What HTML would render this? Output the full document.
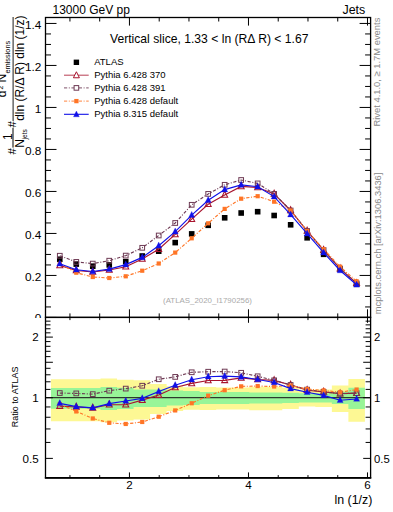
<!DOCTYPE html><html><head><meta charset="utf-8"><style>html,body{margin:0;padding:0;background:#fff;}svg{display:block;}text{font-family:"Liberation Sans",sans-serif;}</style></head><body>
<svg width="393" height="512" viewBox="0 0 393 512">
<rect width="393" height="512" fill="#fff"/>
<path d="M50.95 379.27L67.47 379.27L67.47 379.27L84.00 379.27L84.00 379.27L100.52 379.27L100.52 378.57L117.05 378.57L117.05 379.63L133.57 379.63L133.57 380.34L150.09 380.34L150.09 384.00L166.62 384.00L166.62 386.28L183.14 386.28L183.14 387.20L199.67 387.20L199.67 387.05L216.19 387.05L216.19 387.44L232.71 387.44L232.71 387.44L249.24 387.44L249.24 386.74L265.76 386.74L265.76 386.74L282.29 386.74L282.29 387.83L298.81 387.83L298.81 389.80L315.33 389.80L315.33 389.40L331.86 389.40L331.86 385.51L348.38 385.51L348.38 378.92L364.91 378.92L364.91 421.75L348.38 421.75L348.38 411.96L331.86 411.96L331.86 406.96L315.33 406.96L315.33 406.47L298.81 406.47L298.81 408.92L282.29 408.92L282.29 410.33L265.76 410.33L265.76 410.33L249.24 410.33L249.24 409.42L232.71 409.42L232.71 409.42L216.19 409.42L216.19 409.92L199.67 409.92L199.67 409.72L183.14 409.72L183.14 410.94L166.62 410.94L166.62 414.04L150.09 414.04L150.09 419.48L133.57 419.48L133.57 420.61L117.05 420.61L117.05 422.33L100.52 422.33L100.52 421.18L84.00 421.18L84.00 421.18L67.47 421.18L67.47 421.18L50.95 421.18Z" fill="#fdf894"/>
<path d="M50.95 387.98L67.47 387.98L67.47 387.98L84.00 387.98L84.00 387.98L100.52 387.98L100.52 387.05L117.05 387.05L117.05 387.83L133.57 387.83L133.57 389.40L150.09 389.40L150.09 389.40L166.62 389.40L166.62 390.60L183.14 390.60L183.14 391.01L199.67 391.01L199.67 391.98L216.19 391.98L216.19 391.98L232.71 391.98L232.71 391.98L249.24 391.98L249.24 392.39L265.76 392.39L265.76 392.39L282.29 392.39L282.29 392.81L298.81 392.81L298.81 393.14L315.33 393.14L315.33 393.14L331.86 393.14L331.86 391.82L348.38 391.82L348.38 387.83L364.91 387.83L364.91 408.92L348.38 408.92L348.38 404.09L331.86 404.09L331.86 402.60L315.33 402.60L315.33 402.60L298.81 402.60L298.81 402.97L282.29 402.97L282.29 403.43L265.76 403.43L265.76 403.43L249.24 403.43L249.24 403.90L232.71 403.90L232.71 403.90L216.19 403.90L216.19 403.90L199.67 403.90L199.67 405.03L183.14 405.03L183.14 405.51L166.62 405.51L166.62 406.96L150.09 406.96L150.09 406.96L133.57 406.96L133.57 408.92L117.05 408.92L117.05 409.92L100.52 409.92L100.52 408.73L84.00 408.73L84.00 408.73L67.47 408.73L67.47 408.73L50.95 408.73Z" fill="#98f598"/>
<line x1="45.5" y1="397.74" x2="370.6" y2="397.74" stroke="#2d3a2d" stroke-width="1.25"/>
<rect x="56.98" y="256.45" width="5.60" height="5.60" fill="#000"/>
<rect x="73.47" y="261.30" width="5.60" height="5.60" fill="#000"/>
<rect x="89.96" y="263.40" width="5.60" height="5.60" fill="#000"/>
<rect x="106.45" y="262.10" width="5.60" height="5.60" fill="#000"/>
<rect x="122.94" y="258.90" width="5.60" height="5.60" fill="#000"/>
<rect x="139.43" y="253.20" width="5.60" height="5.60" fill="#000"/>
<rect x="155.92" y="248.40" width="5.60" height="5.60" fill="#000"/>
<rect x="172.41" y="239.80" width="5.60" height="5.60" fill="#000"/>
<rect x="188.90" y="231.10" width="5.60" height="5.60" fill="#000"/>
<rect x="205.39" y="222.50" width="5.60" height="5.60" fill="#000"/>
<rect x="221.88" y="215.00" width="5.60" height="5.60" fill="#000"/>
<rect x="238.37" y="210.20" width="5.60" height="5.60" fill="#000"/>
<rect x="254.86" y="208.90" width="5.60" height="5.60" fill="#000"/>
<rect x="271.35" y="212.70" width="5.60" height="5.60" fill="#000"/>
<rect x="287.84" y="222.00" width="5.60" height="5.60" fill="#000"/>
<rect x="304.33" y="235.00" width="5.60" height="5.60" fill="#000"/>
<rect x="320.82" y="251.50" width="5.60" height="5.60" fill="#000"/>
<rect x="337.31" y="266.40" width="5.60" height="5.60" fill="#000"/>
<rect x="353.80" y="281.50" width="5.60" height="5.60" fill="#000"/>
<polyline points="59.78,265.40 76.27,270.50 92.76,272.00 109.25,270.00 125.74,266.80 142.23,259.00 158.72,249.20 175.21,234.40 191.70,219.20 208.19,204.20 224.68,194.90 241.17,186.40 257.66,187.50 274.15,193.90 290.64,210.50 307.13,231.00 323.62,250.10 340.11,268.60 356.60,283.30" fill="none" stroke="#a8142e" stroke-width="1.15"/>
<path d="M59.78 261.68L62.78 267.68L56.78 267.68Z" fill="none" stroke="#a8142e" stroke-width="1.05"/>
<path d="M76.27 266.78L79.27 272.78L73.27 272.78Z" fill="none" stroke="#a8142e" stroke-width="1.05"/>
<path d="M92.76 268.28L95.76 274.28L89.76 274.28Z" fill="none" stroke="#a8142e" stroke-width="1.05"/>
<path d="M109.25 266.28L112.25 272.28L106.25 272.28Z" fill="none" stroke="#a8142e" stroke-width="1.05"/>
<path d="M125.74 263.08L128.74 269.08L122.74 269.08Z" fill="none" stroke="#a8142e" stroke-width="1.05"/>
<path d="M142.23 255.28L145.23 261.28L139.23 261.28Z" fill="none" stroke="#a8142e" stroke-width="1.05"/>
<path d="M158.72 245.48L161.72 251.48L155.72 251.48Z" fill="none" stroke="#a8142e" stroke-width="1.05"/>
<path d="M175.21 230.68L178.21 236.68L172.21 236.68Z" fill="none" stroke="#a8142e" stroke-width="1.05"/>
<path d="M191.70 215.48L194.70 221.48L188.70 221.48Z" fill="none" stroke="#a8142e" stroke-width="1.05"/>
<path d="M208.19 200.48L211.19 206.48L205.19 206.48Z" fill="none" stroke="#a8142e" stroke-width="1.05"/>
<path d="M224.68 191.18L227.68 197.18L221.68 197.18Z" fill="none" stroke="#a8142e" stroke-width="1.05"/>
<path d="M241.17 182.68L244.17 188.68L238.17 188.68Z" fill="none" stroke="#a8142e" stroke-width="1.05"/>
<path d="M257.66 183.78L260.66 189.78L254.66 189.78Z" fill="none" stroke="#a8142e" stroke-width="1.05"/>
<path d="M274.15 190.18L277.15 196.18L271.15 196.18Z" fill="none" stroke="#a8142e" stroke-width="1.05"/>
<path d="M290.64 206.78L293.64 212.78L287.64 212.78Z" fill="none" stroke="#a8142e" stroke-width="1.05"/>
<path d="M307.13 227.28L310.13 233.28L304.13 233.28Z" fill="none" stroke="#a8142e" stroke-width="1.05"/>
<path d="M323.62 246.38L326.62 252.38L320.62 252.38Z" fill="none" stroke="#a8142e" stroke-width="1.05"/>
<path d="M340.11 264.88L343.11 270.88L337.11 270.88Z" fill="none" stroke="#a8142e" stroke-width="1.05"/>
<path d="M356.60 279.58L359.60 285.58L353.60 285.58Z" fill="none" stroke="#a8142e" stroke-width="1.05"/>
<polyline points="59.78,255.75 76.27,261.90 92.76,263.60 109.25,260.70 125.74,255.60 142.23,247.80 158.72,235.50 175.21,223.00 191.70,204.80 208.19,193.90 224.68,184.80 241.17,180.00 257.66,183.40 274.15,193.90 290.64,210.50 307.13,231.00 323.62,250.10 340.11,268.60 356.60,283.30" fill="none" stroke="#6e3a54" stroke-width="1.15" stroke-dasharray="3.2 1.6 1 1.6"/>
<rect x="57.43" y="253.40" width="4.70" height="4.70" fill="none" stroke="#6e3a54" stroke-width="1.0"/>
<rect x="73.92" y="259.55" width="4.70" height="4.70" fill="none" stroke="#6e3a54" stroke-width="1.0"/>
<rect x="90.41" y="261.25" width="4.70" height="4.70" fill="none" stroke="#6e3a54" stroke-width="1.0"/>
<rect x="106.90" y="258.35" width="4.70" height="4.70" fill="none" stroke="#6e3a54" stroke-width="1.0"/>
<rect x="123.39" y="253.25" width="4.70" height="4.70" fill="none" stroke="#6e3a54" stroke-width="1.0"/>
<rect x="139.88" y="245.45" width="4.70" height="4.70" fill="none" stroke="#6e3a54" stroke-width="1.0"/>
<rect x="156.37" y="233.15" width="4.70" height="4.70" fill="none" stroke="#6e3a54" stroke-width="1.0"/>
<rect x="172.86" y="220.65" width="4.70" height="4.70" fill="none" stroke="#6e3a54" stroke-width="1.0"/>
<rect x="189.35" y="202.45" width="4.70" height="4.70" fill="none" stroke="#6e3a54" stroke-width="1.0"/>
<rect x="205.84" y="191.55" width="4.70" height="4.70" fill="none" stroke="#6e3a54" stroke-width="1.0"/>
<rect x="222.33" y="182.45" width="4.70" height="4.70" fill="none" stroke="#6e3a54" stroke-width="1.0"/>
<rect x="238.82" y="177.65" width="4.70" height="4.70" fill="none" stroke="#6e3a54" stroke-width="1.0"/>
<rect x="255.31" y="181.05" width="4.70" height="4.70" fill="none" stroke="#6e3a54" stroke-width="1.0"/>
<rect x="271.80" y="191.55" width="4.70" height="4.70" fill="none" stroke="#6e3a54" stroke-width="1.0"/>
<rect x="288.29" y="208.15" width="4.70" height="4.70" fill="none" stroke="#6e3a54" stroke-width="1.0"/>
<rect x="304.78" y="228.65" width="4.70" height="4.70" fill="none" stroke="#6e3a54" stroke-width="1.0"/>
<rect x="321.27" y="247.75" width="4.70" height="4.70" fill="none" stroke="#6e3a54" stroke-width="1.0"/>
<rect x="337.76" y="266.25" width="4.70" height="4.70" fill="none" stroke="#6e3a54" stroke-width="1.0"/>
<rect x="354.25" y="280.95" width="4.70" height="4.70" fill="none" stroke="#6e3a54" stroke-width="1.0"/>
<polyline points="59.78,263.80 76.27,272.70 92.76,277.00 109.25,278.00 125.74,276.30 142.23,270.70 158.72,263.50 175.21,252.60 191.70,238.30 208.19,223.30 224.68,208.90 241.17,198.70 257.66,196.20 274.15,201.70 290.64,210.50 307.13,231.00 323.62,249.20 340.11,266.70 356.60,281.30" fill="none" stroke="#ff7526" stroke-width="1.15" stroke-dasharray="3.2 1.6 1 1.6"/>
<rect x="57.68" y="261.70" width="4.20" height="4.20" fill="#ff7526"/>
<rect x="74.17" y="270.60" width="4.20" height="4.20" fill="#ff7526"/>
<rect x="90.66" y="274.90" width="4.20" height="4.20" fill="#ff7526"/>
<rect x="107.15" y="275.90" width="4.20" height="4.20" fill="#ff7526"/>
<rect x="123.64" y="274.20" width="4.20" height="4.20" fill="#ff7526"/>
<rect x="140.13" y="268.60" width="4.20" height="4.20" fill="#ff7526"/>
<rect x="156.62" y="261.40" width="4.20" height="4.20" fill="#ff7526"/>
<rect x="173.11" y="250.50" width="4.20" height="4.20" fill="#ff7526"/>
<rect x="189.60" y="236.20" width="4.20" height="4.20" fill="#ff7526"/>
<rect x="206.09" y="221.20" width="4.20" height="4.20" fill="#ff7526"/>
<rect x="222.58" y="206.80" width="4.20" height="4.20" fill="#ff7526"/>
<rect x="239.07" y="196.60" width="4.20" height="4.20" fill="#ff7526"/>
<rect x="255.56" y="194.10" width="4.20" height="4.20" fill="#ff7526"/>
<rect x="272.05" y="199.60" width="4.20" height="4.20" fill="#ff7526"/>
<rect x="288.54" y="208.40" width="4.20" height="4.20" fill="#ff7526"/>
<rect x="305.03" y="228.90" width="4.20" height="4.20" fill="#ff7526"/>
<rect x="321.52" y="247.10" width="4.20" height="4.20" fill="#ff7526"/>
<rect x="338.01" y="264.60" width="4.20" height="4.20" fill="#ff7526"/>
<rect x="354.50" y="279.20" width="4.20" height="4.20" fill="#ff7526"/>
<polyline points="59.78,263.70 76.27,269.80 92.76,271.50 109.25,269.10 125.74,264.60 142.23,257.40 158.72,245.80 175.21,231.70 191.70,215.10 208.19,200.30 224.68,189.60 241.17,184.90 257.66,186.70 274.15,196.60 290.64,214.60 307.13,233.70 323.62,252.60 340.11,270.50 356.60,284.80" fill="none" stroke="#1010e8" stroke-width="1.15"/>
<path d="M59.78 259.98L62.78 265.98L56.78 265.98Z" fill="#1010e8" stroke="#1010e8" stroke-width="0.3"/>
<path d="M76.27 266.08L79.27 272.08L73.27 272.08Z" fill="#1010e8" stroke="#1010e8" stroke-width="0.3"/>
<path d="M92.76 267.78L95.76 273.78L89.76 273.78Z" fill="#1010e8" stroke="#1010e8" stroke-width="0.3"/>
<path d="M109.25 265.38L112.25 271.38L106.25 271.38Z" fill="#1010e8" stroke="#1010e8" stroke-width="0.3"/>
<path d="M125.74 260.88L128.74 266.88L122.74 266.88Z" fill="#1010e8" stroke="#1010e8" stroke-width="0.3"/>
<path d="M142.23 253.68L145.23 259.68L139.23 259.68Z" fill="#1010e8" stroke="#1010e8" stroke-width="0.3"/>
<path d="M158.72 242.08L161.72 248.08L155.72 248.08Z" fill="#1010e8" stroke="#1010e8" stroke-width="0.3"/>
<path d="M175.21 227.98L178.21 233.98L172.21 233.98Z" fill="#1010e8" stroke="#1010e8" stroke-width="0.3"/>
<path d="M191.70 211.38L194.70 217.38L188.70 217.38Z" fill="#1010e8" stroke="#1010e8" stroke-width="0.3"/>
<path d="M208.19 196.58L211.19 202.58L205.19 202.58Z" fill="#1010e8" stroke="#1010e8" stroke-width="0.3"/>
<path d="M224.68 185.88L227.68 191.88L221.68 191.88Z" fill="#1010e8" stroke="#1010e8" stroke-width="0.3"/>
<path d="M241.17 181.18L244.17 187.18L238.17 187.18Z" fill="#1010e8" stroke="#1010e8" stroke-width="0.3"/>
<path d="M257.66 182.98L260.66 188.98L254.66 188.98Z" fill="#1010e8" stroke="#1010e8" stroke-width="0.3"/>
<path d="M274.15 192.88L277.15 198.88L271.15 198.88Z" fill="#1010e8" stroke="#1010e8" stroke-width="0.3"/>
<path d="M290.64 210.88L293.64 216.88L287.64 216.88Z" fill="#1010e8" stroke="#1010e8" stroke-width="0.3"/>
<path d="M307.13 229.98L310.13 235.98L304.13 235.98Z" fill="#1010e8" stroke="#1010e8" stroke-width="0.3"/>
<path d="M323.62 248.88L326.62 254.88L320.62 254.88Z" fill="#1010e8" stroke="#1010e8" stroke-width="0.3"/>
<path d="M340.11 266.78L343.11 272.78L337.11 272.78Z" fill="#1010e8" stroke="#1010e8" stroke-width="0.3"/>
<path d="M356.60 281.08L359.60 287.08L353.60 287.08Z" fill="#1010e8" stroke="#1010e8" stroke-width="0.3"/>
<polyline points="59.78,406.09 76.27,406.96 92.76,407.84 109.25,404.75 125.74,404.75 142.23,400.13 158.72,395.07 175.21,387.51 191.70,383.41 208.19,380.49 224.68,380.34 241.17,377.94 257.66,379.49 274.15,380.34 290.64,384.98 307.13,390.20 323.62,391.82 340.11,393.64 356.60,393.14" fill="none" stroke="#a8142e" stroke-width="1.15"/>
<path d="M59.78 402.37L62.78 408.37L56.78 408.37Z" fill="none" stroke="#a8142e" stroke-width="1.05"/>
<path d="M76.27 403.24L79.27 409.24L73.27 409.24Z" fill="none" stroke="#a8142e" stroke-width="1.05"/>
<path d="M92.76 404.12L95.76 410.12L89.76 410.12Z" fill="none" stroke="#a8142e" stroke-width="1.05"/>
<path d="M109.25 401.03L112.25 407.03L106.25 407.03Z" fill="none" stroke="#a8142e" stroke-width="1.05"/>
<path d="M125.74 401.03L128.74 407.03L122.74 407.03Z" fill="none" stroke="#a8142e" stroke-width="1.05"/>
<path d="M142.23 396.41L145.23 402.41L139.23 402.41Z" fill="none" stroke="#a8142e" stroke-width="1.05"/>
<path d="M158.72 391.35L161.72 397.35L155.72 397.35Z" fill="none" stroke="#a8142e" stroke-width="1.05"/>
<path d="M175.21 383.79L178.21 389.79L172.21 389.79Z" fill="none" stroke="#a8142e" stroke-width="1.05"/>
<path d="M191.70 379.69L194.70 385.69L188.70 385.69Z" fill="none" stroke="#a8142e" stroke-width="1.05"/>
<path d="M208.19 376.77L211.19 382.77L205.19 382.77Z" fill="none" stroke="#a8142e" stroke-width="1.05"/>
<path d="M224.68 376.62L227.68 382.62L221.68 382.62Z" fill="none" stroke="#a8142e" stroke-width="1.05"/>
<path d="M241.17 374.22L244.17 380.22L238.17 380.22Z" fill="none" stroke="#a8142e" stroke-width="1.05"/>
<path d="M257.66 375.77L260.66 381.77L254.66 381.77Z" fill="none" stroke="#a8142e" stroke-width="1.05"/>
<path d="M274.15 376.62L277.15 382.62L271.15 382.62Z" fill="none" stroke="#a8142e" stroke-width="1.05"/>
<path d="M290.64 381.26L293.64 387.26L287.64 387.26Z" fill="none" stroke="#a8142e" stroke-width="1.05"/>
<path d="M307.13 386.48L310.13 392.48L304.13 392.48Z" fill="none" stroke="#a8142e" stroke-width="1.05"/>
<path d="M323.62 388.10L326.62 394.10L320.62 394.10Z" fill="none" stroke="#a8142e" stroke-width="1.05"/>
<path d="M340.11 389.92L343.11 395.92L337.11 395.92Z" fill="none" stroke="#a8142e" stroke-width="1.05"/>
<path d="M356.60 389.42L359.60 395.42L353.60 395.42Z" fill="none" stroke="#a8142e" stroke-width="1.05"/>
<polyline points="59.78,393.06 76.27,393.39 92.76,394.14 109.25,390.68 125.74,388.61 142.23,385.74 158.72,379.27 175.21,376.90 191.70,372.27 208.19,371.74 224.68,371.55 241.17,372.79 257.66,376.28 274.15,380.34 290.64,384.98 307.13,389.64 323.62,391.82 340.11,393.64 356.60,393.14" fill="none" stroke="#6e3a54" stroke-width="1.15" stroke-dasharray="3.2 1.6 1 1.6"/>
<rect x="57.43" y="390.71" width="4.70" height="4.70" fill="none" stroke="#6e3a54" stroke-width="1.0"/>
<rect x="73.92" y="391.04" width="4.70" height="4.70" fill="none" stroke="#6e3a54" stroke-width="1.0"/>
<rect x="90.41" y="391.79" width="4.70" height="4.70" fill="none" stroke="#6e3a54" stroke-width="1.0"/>
<rect x="106.90" y="388.33" width="4.70" height="4.70" fill="none" stroke="#6e3a54" stroke-width="1.0"/>
<rect x="123.39" y="386.26" width="4.70" height="4.70" fill="none" stroke="#6e3a54" stroke-width="1.0"/>
<rect x="139.88" y="383.39" width="4.70" height="4.70" fill="none" stroke="#6e3a54" stroke-width="1.0"/>
<rect x="156.37" y="376.92" width="4.70" height="4.70" fill="none" stroke="#6e3a54" stroke-width="1.0"/>
<rect x="172.86" y="374.55" width="4.70" height="4.70" fill="none" stroke="#6e3a54" stroke-width="1.0"/>
<rect x="189.35" y="369.92" width="4.70" height="4.70" fill="none" stroke="#6e3a54" stroke-width="1.0"/>
<rect x="205.84" y="369.39" width="4.70" height="4.70" fill="none" stroke="#6e3a54" stroke-width="1.0"/>
<rect x="222.33" y="369.20" width="4.70" height="4.70" fill="none" stroke="#6e3a54" stroke-width="1.0"/>
<rect x="238.82" y="370.44" width="4.70" height="4.70" fill="none" stroke="#6e3a54" stroke-width="1.0"/>
<rect x="255.31" y="373.93" width="4.70" height="4.70" fill="none" stroke="#6e3a54" stroke-width="1.0"/>
<rect x="271.80" y="377.99" width="4.70" height="4.70" fill="none" stroke="#6e3a54" stroke-width="1.0"/>
<rect x="288.29" y="382.63" width="4.70" height="4.70" fill="none" stroke="#6e3a54" stroke-width="1.0"/>
<rect x="304.78" y="387.29" width="4.70" height="4.70" fill="none" stroke="#6e3a54" stroke-width="1.0"/>
<rect x="321.27" y="389.47" width="4.70" height="4.70" fill="none" stroke="#6e3a54" stroke-width="1.0"/>
<rect x="337.76" y="391.29" width="4.70" height="4.70" fill="none" stroke="#6e3a54" stroke-width="1.0"/>
<rect x="354.25" y="390.79" width="4.70" height="4.70" fill="none" stroke="#6e3a54" stroke-width="1.0"/>
<polyline points="59.78,404.09 76.27,411.45 92.76,418.47 109.25,422.79 125.74,423.97 142.23,421.98 158.72,416.72 175.21,410.43 191.70,403.25 208.19,395.67 224.68,390.20 241.17,386.35 257.66,386.05 274.15,386.51 290.64,385.51 307.13,389.08 323.62,390.44 340.11,392.23 356.60,389.56" fill="none" stroke="#ff7526" stroke-width="1.15" stroke-dasharray="3.2 1.6 1 1.6"/>
<rect x="57.68" y="401.99" width="4.20" height="4.20" fill="#ff7526"/>
<rect x="74.17" y="409.35" width="4.20" height="4.20" fill="#ff7526"/>
<rect x="90.66" y="416.37" width="4.20" height="4.20" fill="#ff7526"/>
<rect x="107.15" y="420.69" width="4.20" height="4.20" fill="#ff7526"/>
<rect x="123.64" y="421.87" width="4.20" height="4.20" fill="#ff7526"/>
<rect x="140.13" y="419.88" width="4.20" height="4.20" fill="#ff7526"/>
<rect x="156.62" y="414.62" width="4.20" height="4.20" fill="#ff7526"/>
<rect x="173.11" y="408.33" width="4.20" height="4.20" fill="#ff7526"/>
<rect x="189.60" y="401.15" width="4.20" height="4.20" fill="#ff7526"/>
<rect x="206.09" y="393.57" width="4.20" height="4.20" fill="#ff7526"/>
<rect x="222.58" y="388.10" width="4.20" height="4.20" fill="#ff7526"/>
<rect x="239.07" y="384.25" width="4.20" height="4.20" fill="#ff7526"/>
<rect x="255.56" y="383.95" width="4.20" height="4.20" fill="#ff7526"/>
<rect x="272.05" y="384.41" width="4.20" height="4.20" fill="#ff7526"/>
<rect x="288.54" y="383.41" width="4.20" height="4.20" fill="#ff7526"/>
<rect x="305.03" y="386.98" width="4.20" height="4.20" fill="#ff7526"/>
<rect x="321.52" y="388.34" width="4.20" height="4.20" fill="#ff7526"/>
<rect x="338.01" y="390.13" width="4.20" height="4.20" fill="#ff7526"/>
<rect x="354.50" y="387.46" width="4.20" height="4.20" fill="#ff7526"/>
<polyline points="59.78,403.34 76.27,406.67 92.76,407.84 109.25,403.62 125.74,401.04 142.23,398.35 158.72,391.41 175.21,385.28 191.70,379.70 208.19,376.76 224.68,376.14 241.17,376.90 257.66,379.49 274.15,382.52 290.64,388.61 307.13,392.23 323.62,395.41 340.11,400.22 356.60,398.97" fill="none" stroke="#1010e8" stroke-width="1.15"/>
<path d="M59.78 399.62L62.78 405.62L56.78 405.62Z" fill="#1010e8" stroke="#1010e8" stroke-width="0.3"/>
<path d="M76.27 402.95L79.27 408.95L73.27 408.95Z" fill="#1010e8" stroke="#1010e8" stroke-width="0.3"/>
<path d="M92.76 404.12L95.76 410.12L89.76 410.12Z" fill="#1010e8" stroke="#1010e8" stroke-width="0.3"/>
<path d="M109.25 399.90L112.25 405.90L106.25 405.90Z" fill="#1010e8" stroke="#1010e8" stroke-width="0.3"/>
<path d="M125.74 397.32L128.74 403.32L122.74 403.32Z" fill="#1010e8" stroke="#1010e8" stroke-width="0.3"/>
<path d="M142.23 394.63L145.23 400.63L139.23 400.63Z" fill="#1010e8" stroke="#1010e8" stroke-width="0.3"/>
<path d="M158.72 387.69L161.72 393.69L155.72 393.69Z" fill="#1010e8" stroke="#1010e8" stroke-width="0.3"/>
<path d="M175.21 381.56L178.21 387.56L172.21 387.56Z" fill="#1010e8" stroke="#1010e8" stroke-width="0.3"/>
<path d="M191.70 375.98L194.70 381.98L188.70 381.98Z" fill="#1010e8" stroke="#1010e8" stroke-width="0.3"/>
<path d="M208.19 373.04L211.19 379.04L205.19 379.04Z" fill="#1010e8" stroke="#1010e8" stroke-width="0.3"/>
<path d="M224.68 372.42L227.68 378.42L221.68 378.42Z" fill="#1010e8" stroke="#1010e8" stroke-width="0.3"/>
<path d="M241.17 373.18L244.17 379.18L238.17 379.18Z" fill="#1010e8" stroke="#1010e8" stroke-width="0.3"/>
<path d="M257.66 375.77L260.66 381.77L254.66 381.77Z" fill="#1010e8" stroke="#1010e8" stroke-width="0.3"/>
<path d="M274.15 378.80L277.15 384.80L271.15 384.80Z" fill="#1010e8" stroke="#1010e8" stroke-width="0.3"/>
<path d="M290.64 384.89L293.64 390.89L287.64 390.89Z" fill="#1010e8" stroke="#1010e8" stroke-width="0.3"/>
<path d="M307.13 388.51L310.13 394.51L304.13 394.51Z" fill="#1010e8" stroke="#1010e8" stroke-width="0.3"/>
<path d="M323.62 391.69L326.62 397.69L320.62 397.69Z" fill="#1010e8" stroke="#1010e8" stroke-width="0.3"/>
<path d="M340.11 396.50L343.11 402.50L337.11 402.50Z" fill="#1010e8" stroke="#1010e8" stroke-width="0.3"/>
<path d="M356.60 395.25L359.60 401.25L353.60 401.25Z" fill="#1010e8" stroke="#1010e8" stroke-width="0.3"/>
<rect x="45.5" y="17.5" width="325.10" height="299.90" fill="none" stroke="#000" stroke-width="1.3"/>
<rect x="45.5" y="317.4" width="325.10" height="160.40" fill="none" stroke="#000" stroke-width="1.3"/>
<line x1="44.85" y1="477.8" x2="371.25" y2="477.8" stroke="#000" stroke-width="1.7"/>
<path d="M45.5 317.45h11M370.6 317.45h-11M45.5 306.95h5.5M370.6 306.95h-5.5M45.5 296.45h5.5M370.6 296.45h-5.5M45.5 285.95h5.5M370.6 285.95h-5.5M45.5 275.45h11M370.6 275.45h-11M45.5 264.95h5.5M370.6 264.95h-5.5M45.5 254.45h5.5M370.6 254.45h-5.5M45.5 243.95h5.5M370.6 243.95h-5.5M45.5 233.45h11M370.6 233.45h-11M45.5 222.95h5.5M370.6 222.95h-5.5M45.5 212.45h5.5M370.6 212.45h-5.5M45.5 201.95h5.5M370.6 201.95h-5.5M45.5 191.45h11M370.6 191.45h-11M45.5 180.95h5.5M370.6 180.95h-5.5M45.5 170.45h5.5M370.6 170.45h-5.5M45.5 159.95h5.5M370.6 159.95h-5.5M45.5 149.45h11M370.6 149.45h-11M45.5 138.95h5.5M370.6 138.95h-5.5M45.5 128.45h5.5M370.6 128.45h-5.5M45.5 117.95h5.5M370.6 117.95h-5.5M45.5 107.45h11M370.6 107.45h-11M45.5 96.95h5.5M370.6 96.95h-5.5M45.5 86.45h5.5M370.6 86.45h-5.5M45.5 75.95h5.5M370.6 75.95h-5.5M45.5 65.45h11M370.6 65.45h-11M45.5 54.95h5.5M370.6 54.95h-5.5M45.5 44.45h5.5M370.6 44.45h-5.5M45.5 33.95h5.5M370.6 33.95h-5.5M45.5 23.45h11M370.6 23.45h-11M69.94 17.5v4.0M69.94 317.4v-4.0M69.94 317.4v2.7M69.94 477.8v-2.7M99.69 17.5v4.0M99.69 317.4v-4.0M99.69 317.4v2.7M99.69 477.8v-2.7M129.45 17.5v8.1M129.45 317.4v-8.1M129.45 317.4v5.4M129.45 477.8v-5.4M159.21 17.5v4.0M159.21 317.4v-4.0M159.21 317.4v2.7M159.21 477.8v-2.7M188.96 17.5v4.0M188.96 317.4v-4.0M188.96 317.4v2.7M188.96 477.8v-2.7M218.72 17.5v4.0M218.72 317.4v-4.0M218.72 317.4v2.7M218.72 477.8v-2.7M248.47 17.5v8.1M248.47 317.4v-8.1M248.47 317.4v5.4M248.47 477.8v-5.4M278.23 17.5v4.0M278.23 317.4v-4.0M278.23 317.4v2.7M278.23 477.8v-2.7M307.98 17.5v4.0M307.98 317.4v-4.0M307.98 317.4v2.7M307.98 477.8v-2.7M337.74 17.5v4.0M337.74 317.4v-4.0M337.74 317.4v2.7M337.74 477.8v-2.7M367.49 17.5v8.1M367.49 317.4v-8.1M367.49 317.4v5.4M367.49 477.8v-5.4M45.5 458.38h7.4M370.6 458.38h-7.4M45.5 442.43h5.0M370.6 442.43h-5.0M45.5 428.94h5.0M370.6 428.94h-5.0M45.5 417.26h5.0M370.6 417.26h-5.0M45.5 406.96h5.0M370.6 406.96h-5.0M45.5 397.74h7.4M370.6 397.74h-7.4M45.5 389.40h5.0M370.6 389.40h-5.0M45.5 381.79h5.0M370.6 381.79h-5.0M45.5 374.79h5.0M370.6 374.79h-5.0M45.5 368.30h5.0M370.6 368.30h-5.0M45.5 362.27h7.4M370.6 362.27h-7.4M45.5 356.62h5.0M370.6 356.62h-5.0M45.5 351.32h5.0M370.6 351.32h-5.0M45.5 346.32h5.0M370.6 346.32h-5.0M45.5 341.59h5.0M370.6 341.59h-5.0M45.5 337.10h7.4M370.6 337.10h-7.4M45.5 332.83h5.0M370.6 332.83h-5.0M45.5 328.76h5.0M370.6 328.76h-5.0M45.5 324.87h5.0M370.6 324.87h-5.0M45.5 321.15h5.0M370.6 321.15h-5.0" stroke="#000" stroke-width="1.0" fill="none"/>
<text x="41.3" y="280.75" font-size="11.8" text-anchor="end" fill="#000">0.2</text>
<text x="41.3" y="238.75" font-size="11.8" text-anchor="end" fill="#000">0.4</text>
<text x="41.3" y="196.75" font-size="11.8" text-anchor="end" fill="#000">0.6</text>
<text x="41.3" y="154.75" font-size="11.8" text-anchor="end" fill="#000">0.8</text>
<text x="41.3" y="112.75" font-size="11.8" text-anchor="end" fill="#000">1</text>
<text x="41.3" y="70.75" font-size="11.8" text-anchor="end" fill="#000">1.2</text>
<text x="41.3" y="28.75" font-size="11.8" text-anchor="end" fill="#000">1.4</text>
<clipPath id="c0"><rect x="0" y="0" width="60" height="317.9"/></clipPath>
<text x="41.3" y="321.85" font-size="11.8" text-anchor="end" fill="#000" clip-path="url(#c0)">0</text>
<text x="38.6" y="462.58" font-size="11.6" text-anchor="end" fill="#000">0.5</text>
<text x="38.6" y="401.94" font-size="11.6" text-anchor="end" fill="#000">1</text>
<text x="38.6" y="341.30" font-size="11.6" text-anchor="end" fill="#000">2</text>
<text x="374.0" y="462.68" font-size="11.3" text-anchor="start" fill="#000">0.5</text>
<text x="374.0" y="402.04" font-size="11.3" text-anchor="start" fill="#000">1</text>
<text x="374.0" y="341.40" font-size="11.3" text-anchor="start" fill="#000">2</text>
<text x="129.45" y="489.3" font-size="11.6" text-anchor="middle" fill="#000">2</text>
<text x="248.47" y="489.3" font-size="11.6" text-anchor="middle" fill="#000">4</text>
<text x="367.49" y="489.3" font-size="11.6" text-anchor="middle" fill="#000">6</text>
<text x="52.5" y="14" font-size="12" text-anchor="start" fill="#000">13000 GeV pp</text>
<text x="365.2" y="13.9" font-size="12.4" text-anchor="end" fill="#000">Jets</text>
<text x="110" y="42.8" font-size="12.15" text-anchor="start" fill="#000">Vertical slice, 1.33 &lt; ln (RΔ R) &lt; 1.67</text>
<text x="372.4" y="504.0" font-size="12.4" text-anchor="end" fill="#000">ln (1/z)</text>
<text x="207.5" y="302.5" font-size="7.9" text-anchor="middle" fill="#aaa">(ATLAS_2020_I1790256)</text>
<text transform="translate(18.2,427.3) rotate(-90)" font-size="9" fill="#000">Ratio to ATLAS</text>
<text transform="translate(380.4,126.5) rotate(-90)" font-size="9.4" fill="#888">Rivet 4.1.0, ≥ 1.7M events</text>
<text transform="translate(381.0,314.3) rotate(-90)" font-size="9.4" fill="#888">mcplots.cern.ch [arXiv:1306.3436]</text>
<rect x="73.70" y="59.60" width="5.40" height="5.40" fill="#000"/>
<line x1="64" y1="75.2" x2="88.7" y2="75.2" stroke="#a8142e" stroke-width="1.1" opacity="0.75"/>
<path d="M76.40 71.78L79.40 77.78L73.40 77.78Z" fill="#fff" stroke="#a8142e" stroke-width="1.0"/>
<line x1="64" y1="87.9" x2="88.7" y2="87.9" stroke="#6e3a54" stroke-width="1.1" opacity="0.7" stroke-dasharray="3.2 1.6 1 1.6"/>
<rect x="74.10" y="85.60" width="4.60" height="4.60" fill="#fff" stroke="#6e3a54" stroke-width="1.0"/>
<line x1="64" y1="101.1" x2="88.7" y2="101.1" stroke="#ff7526" stroke-width="1.1" opacity="0.7" stroke-dasharray="3.2 1.6 1 1.6"/>
<rect x="74.25" y="98.95" width="4.30" height="4.30" fill="#ff7526"/>
<line x1="64" y1="114.3" x2="88.7" y2="114.3" stroke="#1010e8" stroke-width="1.1"/>
<path d="M76.40 111.00L79.30 116.80L73.50 116.80Z" fill="#1010e8" stroke="#1010e8" stroke-width="0.3"/>
<text x="94.2" y="64.90" font-size="9.5" text-anchor="start" fill="#000">ATLAS</text>
<text x="94.2" y="77.80" font-size="9.5" text-anchor="start" fill="#000">Pythia 6.428 370</text>
<text x="94.2" y="90.50" font-size="9.5" text-anchor="start" fill="#000">Pythia 6.428 391</text>
<text x="94.2" y="103.70" font-size="9.5" text-anchor="start" fill="#000">Pythia 6.428 default</text>
<text x="94.2" y="116.90" font-size="9.5" text-anchor="start" fill="#000">Pythia 8.315 default</text>
<text transform="translate(16.1,154.5) rotate(-90)" font-size="11.5">#</text>
<text transform="translate(12.2,136.6) rotate(-90)" font-size="12" text-anchor="middle">1</text>
<line x1="13.0" y1="127.8" x2="13.0" y2="147.6" stroke="#000" stroke-width="1.0"/>
<text transform="translate(23.9,147.8) rotate(-90)" font-size="12">N</text>
<text transform="translate(27,139.5) rotate(-90)" font-size="6.6">jets</text>
<text transform="translate(16.1,127.6) rotate(-90)" font-size="11.5">#</text>
<line x1="13.1" y1="17" x2="13.1" y2="121" stroke="#000" stroke-width="0.9"/>
<text transform="translate(24.3,120.8) rotate(-90)" font-size="12">dln (R/Δ R) dln (1/z)</text>
<text transform="translate(6.2,97.2) rotate(-90)" font-size="12">d</text>
<text transform="translate(2.5,89.5) rotate(-90)" font-size="7">2</text>
<text transform="translate(6.2,82.6) rotate(-90)" font-size="12">N</text>
<text transform="translate(10.3,73.6) rotate(-90)" font-size="7.4">emissions</text>
</svg></body></html>
